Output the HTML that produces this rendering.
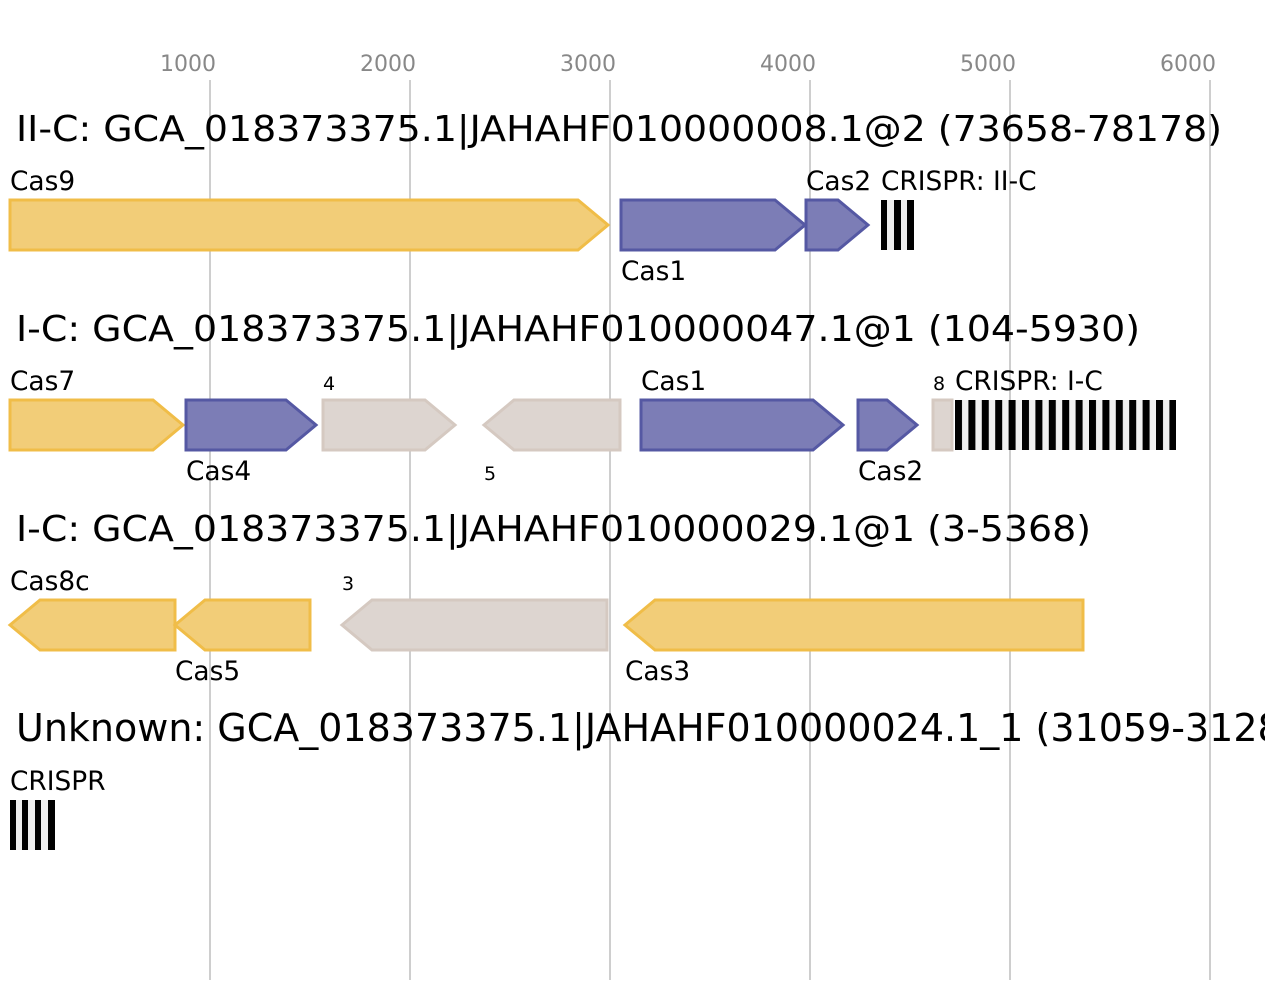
<!DOCTYPE html>
<html><head><meta charset="utf-8"><style>
html,body{margin:0;padding:0;background:#fff;}
svg{display:block;font-family:"DejaVu Sans","Liberation Sans",sans-serif;}
</style></head><body>
<svg width="1265" height="1000" xmlns="http://www.w3.org/2000/svg">
<defs>
<pattern id="cr" x="955" y="0" width="13.4" height="10" patternUnits="userSpaceOnUse">
<rect x="0" y="0" width="13.4" height="10" fill="#f0f0f0"/><rect x="0" y="0" width="7" height="10" fill="#000"/>
</pattern>
</defs>
<g stroke="#bdbdbd" stroke-width="1.5">
<line x1="210" y1="80" x2="210" y2="980"/><line x1="410" y1="80" x2="410" y2="980"/>
<line x1="610" y1="80" x2="610" y2="980"/><line x1="810" y1="80" x2="810" y2="980"/>
<line x1="1010" y1="80" x2="1010" y2="980"/><line x1="1210" y1="80" x2="1210" y2="980"/>
</g>
<g fill="#888" font-size="22" text-anchor="middle">
<text x="188" y="71">1000</text><text x="388" y="71">2000</text><text x="588" y="71">3000</text>
<text x="788" y="71">4000</text><text x="988" y="71">5000</text><text x="1188" y="71">6000</text>
</g>
<g font-size="36" fill="#000">
<text x="16" y="141" textLength="1206" lengthAdjust="spacingAndGlyphs">II-C: GCA_018373375.1|JAHAHF010000008.1@2 (73658-78178)</text>
<text x="16" y="341" textLength="1124" lengthAdjust="spacingAndGlyphs">I-C: GCA_018373375.1|JAHAHF010000047.1@1 (104-5930)</text>
<text x="16" y="541" textLength="1075" lengthAdjust="spacingAndGlyphs">I-C: GCA_018373375.1|JAHAHF010000029.1@1 (3-5368)</text>
<text x="16" y="741" font-size="38">Unknown: GCA_018373375.1|JAHAHF010000024.1_1 (31059-31288)</text>
</g>
<g stroke-width="3" stroke-linejoin="miter">
<g fill="#f2cd78" stroke="#f0bd48">
<polygon points="10,200 578,200 608,225 578,250 10,250"/>
<polygon points="10,400 153,400 183,425 153,450 10,450"/>
<polygon points="10,625 40,600 175,600 175,650 40,650"/>
<polygon points="175,625 205,600 310,600 310,650 205,650"/>
<polygon points="625,625 655,600 1083,600 1083,650 655,650"/>
</g>
<g fill="#7c7db6" stroke="#5558a3">
<polygon points="621,200 775,200 805,225 775,250 621,250"/>
<polygon points="806,200 838,200 868,225 838,250 806,250"/>
<polygon points="186,400 286,400 316,425 286,450 186,450"/>
<polygon points="641,400 813,400 843,425 813,450 641,450"/>
<polygon points="858,400 887,400 917,425 887,450 858,450"/>
</g>
<g fill="#ddd5d0" stroke="#d5c9c1">
<polygon points="323,400 425,400 455,425 425,450 323,450"/>
<polygon points="484,425 514,400 620,400 620,450 514,450"/>
<polygon points="342,625 372,600 607,600 607,650 372,650"/>
<rect x="933" y="400" width="19" height="50"/>
</g>
</g>
<rect x="955" y="400" width="221" height="50" fill="url(#cr)"/>
<g fill="#000">
<rect x="881" y="200" width="6" height="50"/><rect x="894" y="200" width="7" height="50"/><rect x="907" y="200" width="7" height="50"/>
<rect x="10" y="800" width="6" height="50"/><rect x="22" y="800" width="6" height="50"/><rect x="35" y="800" width="6" height="50"/><rect x="48" y="800" width="7" height="50"/>
</g>
<rect x="16" y="800" width="6" height="50" fill="#eee"/><rect x="28" y="800" width="7" height="50" fill="#eee"/><rect x="41" y="800" width="7" height="50" fill="#eee"/>
<rect x="887" y="200" width="7" height="50" fill="#eee"/><rect x="901" y="200" width="6" height="50" fill="#eee"/>
<g font-size="26.4" fill="#000">
<text x="10" y="190">Cas9</text><text x="806" y="190">Cas2</text><text x="881" y="190">CRISPR: II-C</text><text x="621" y="280">Cas1</text>
<text x="10" y="390">Cas7</text><text x="186" y="480">Cas4</text><text x="641" y="390">Cas1</text><text x="858" y="480">Cas2</text><text x="955" y="390">CRISPR: I-C</text>
<text x="10" y="590">Cas8c</text><text x="175" y="680">Cas5</text><text x="625" y="680">Cas3</text>
<text x="10" y="790">CRISPR</text>
</g>
<g font-size="19" fill="#000">
<text x="323" y="390">4</text><text x="484" y="480">5</text><text x="933" y="390">8</text><text x="342" y="590">3</text>
</g>
</svg>
</body></html>
